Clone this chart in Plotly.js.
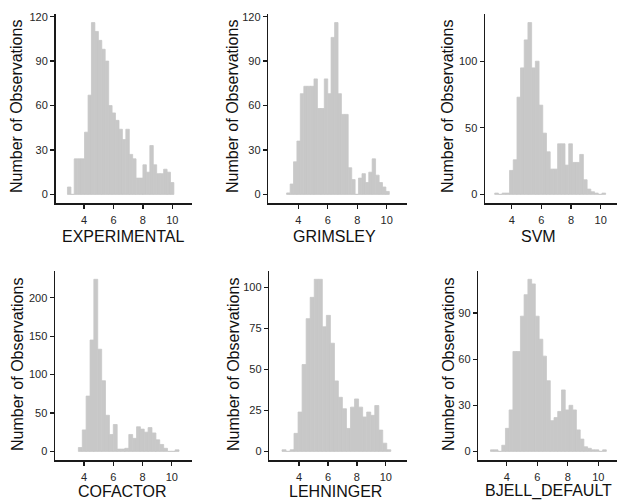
<!DOCTYPE html>
<html>
<head>
<meta charset="utf-8">
<script src="https://cdn.plot.ly/plotly-3.0.1.min.js"></script>
<style>html,body{margin:0;padding:0;background:#fff;}</style>
</head>
<body>
<div id="chart" style="width:617px;height:503px;"></div>
<script>
// ---- data: histogram bin centres and counts ----
const expX = [2.99,3.22,3.45,3.69,3.92,4.15,4.39,4.62,4.86,5.09,5.32,5.56,5.79,6.02,6.26,6.49,6.72,6.96,7.19,7.42,7.66,7.89,8.12,8.36,8.59,8.82,9.06,9.29,9.53,9.76,9.99];
const expY = [5,0,24,24,24,42,67,116,110,104,98,90,60,55,50,44,37,44,27,24,11,11,20,15,33,20,14,14,17,15,8];
const expBin = 0.2335;

const grimX = [3.32,3.56,3.79,4.02,4.25,4.49,4.72,4.95,5.18,5.42,5.65,5.88,6.11,6.34,6.58,6.81,7.04,7.27,7.51,7.74,7.97,8.20,8.44,8.67,8.90,9.13,9.37,9.60,9.83,10.06];
const grimY = [1,7,22,36,68,73,73,73,78,58,58,78,68,106,116,68,54,54,18,10,0,11,14,8,15,24,13,8,5,2];
const grimBin = 0.2323;

const svmX = [2.98,3.23,3.48,3.73,3.98,4.23,4.48,4.72,4.97,5.22,5.47,5.72,5.97,6.22,6.47,6.72,6.97,7.22,7.47,7.72,7.97,8.22,8.47,8.71,8.96,9.21,9.46,9.71,9.96,10.21];
const svmY = [1,0,1,1,18,26,73,95,116,129,95,100,67,46,32,19,19,38,38,22,38,24,24,30,11,4,2,1,0,1];
const svmBin = 0.2494;

const cofX = [3.74,4.01,4.27,4.54,4.80,5.07,5.33,5.60,5.86,6.13,6.39,6.66,6.92,7.19,7.45,7.72,7.98,8.25,8.51,8.78,9.04,9.31,9.57,9.84,10.10,10.36];
const cofY = [5,28,72,145,224,133,92,47,22,35,3,3,4,22,17,32,29,25,31,24,15,9,4,0,0,2];
const cofBin = 0.2648;

const lehX = [2.96,3.24,3.52,3.79,4.07,4.35,4.63,4.91,5.19,5.47,5.75,6.03,6.31,6.58,6.86,7.14,7.42,7.70,7.98,8.26,8.54,8.82,9.10,9.38,9.65,9.93,10.21];
const lehY = [1,0,1,11,24,53,81,94,105,105,76,83,66,43,33,26,14,27,32,27,21,24,22,28,13,5,1];
const lehBin = 0.2791;

const bjX = [3.06,3.31,3.55,3.80,4.04,4.28,4.53,4.77,5.02,5.26,5.51,5.75,6.00,6.24,6.48,6.73,6.97,7.22,7.46,7.71,7.95,8.20,8.44,8.69,8.93,9.17,9.42,9.66,9.91,10.15,10.40];
const bjY = [1,1,0,4,15,27,65,65,88,102,112,109,88,73,62,46,20,22,26,40,27,30,27,14,8,3,2,1,1,0,1];
const bjBin = 0.2445;

const names = ['EXPERIMENTAL','GRIMSLEY','SVM','COFACTOR','LEHNINGER','BJELL_DEFAULT'];
const xTicks = [4,6,8,10];
const yTicks1 = [0,30,60,90,120];
const yTicks2 = [0,30,60,90,120];
const yTicks3 = [0,50,100];
const yTicks4 = [0,50,100,150,200];
const yTicks5 = [0,25,50,75,100];
const yTicks6 = [0,30,60,90];
const yTitle = 'Number of Observations';

// ---- layout geometry (pixels) ----
const W = 617, H = 503;
const geom = [
  {l:55.5, r:191.7, t:14,    b:203, xr:[2.06,11.32], yr:[-5.8,121.8],   xt:[123,236],   yt:[17,107]},
  {l:268.3,r:406.7, t:14,    b:203, xr:[1.96,11.36], yr:[-5.8,121.8],   xt:[334.5,236], yt:[233,107]},
  {l:485,  r:617,   t:14,    b:203, xr:[2.2,11.1],   yr:[-6.45,135.45], xt:[538,236],   yt:[448,107]},
  {l:55,   r:191.7, t:270.7, b:460, xr:[2.01,11.36], yr:[-11.2,235.2],  xt:[122.7,491], yt:[17,365]},
  {l:269.3,r:406.7, t:270.7, b:460, xr:[1.94,11.45], yr:[-5.25,110.25], xt:[335.7,491], yt:[233,365]},
  {l:478.3,r:617,   t:270.7, b:460, xr:[2.14,11.22], yr:[-5.6,117.6],   xt:[548,491],   yt:[448,365]}
];

const series = [
  [expX, expY, expBin, yTicks1],
  [grimX, grimY, grimBin, yTicks2],
  [svmX, svmY, svmBin, yTicks3],
  [cofX, cofY, cofBin, yTicks4],
  [lehX, lehY, lehBin, yTicks5],
  [bjX, bjY, bjBin, yTicks6]
];

const FONT = '"Liberation Sans", Arial, Helvetica, sans-serif';
const BAR = '#c8c8c8';
const traces = [];
const layout = {
  width: W, height: H,
  margin: {l:0, r:0, t:0, b:0},
  paper_bgcolor: '#ffffff', plot_bgcolor: '#ffffff',
  showlegend: false,
  font: {family: FONT, color: '#222'},
  annotations: []
};

series.forEach((s, i) => {
  const g = geom[i];
  const n = i + 1;
  const sfx = n === 1 ? '' : String(n);
  traces.push({
    type: 'bar', x: s[0], y: s[1], width: s[2],
    xaxis: 'x' + sfx, yaxis: 'y' + sfx,
    marker: {color: BAR, line: {width: 0.8, color: BAR}},
    hoverinfo: 'skip'
  });
  const common = {
    showline: true, linecolor: '#1a1a1a', linewidth: 1.5,
    ticks: 'outside', ticklen: 4, tickwidth: 1.3, tickcolor: '#1a1a1a',
    showgrid: false, zeroline: false, fixedrange: true,
    tickfont: {family: FONT, size: 11, color: '#262626'}
  };
  layout['xaxis' + sfx] = Object.assign({}, common, {
    domain: [g.l / W, Math.min(1, g.r / W)],
    range: g.xr, tickmode: 'array', tickvals: xTicks, ticktext: xTicks.map(String),
    ticklabelstandoff: 2,
    anchor: 'y' + sfx
  });
  layout['yaxis' + sfx] = Object.assign({}, common, {
    domain: [1 - g.b / H, 1 - g.t / H],
    range: g.yr, tickmode: 'array', tickvals: s[3], ticktext: s[3].map(String),
    anchor: 'x' + sfx
  });
  layout.annotations.push({
    xref: 'paper', yref: 'paper', x: g.xt[0] / W, y: 1 - g.xt[1] / H,
    xanchor: 'center', yanchor: 'middle', showarrow: false,
    text: names[i], font: {family: FONT, size: 16, color: '#111'}
  });
  layout.annotations.push({
    xref: 'paper', yref: 'paper', x: g.yt[0] / W, y: 1 - g.yt[1] / H,
    xanchor: 'center', yanchor: 'middle', showarrow: false, textangle: -90,
    text: yTitle, font: {family: FONT, size: 16, color: '#111'}
  });
});

Plotly.newPlot('chart', traces, layout, {displayModeBar: false, staticPlot: true});
</script>
</body>
</html>
